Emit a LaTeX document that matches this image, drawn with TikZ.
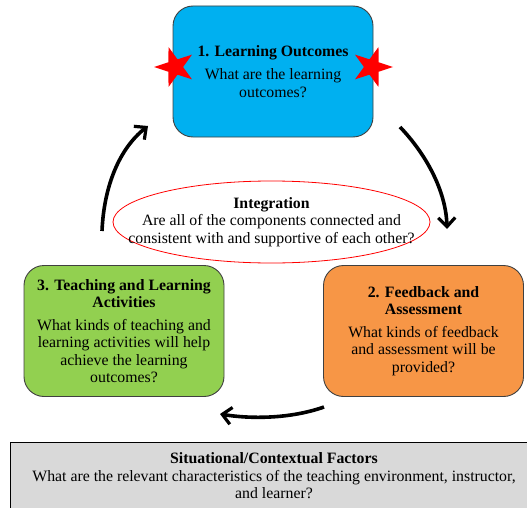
\documentclass[tikz,border=0pt]{standalone}
\usepackage{fontspec}
\setmainfont{Liberation Serif}
\usetikzlibrary{shapes.geometric,arrows.meta}
\definecolor{boxblue}{HTML}{00B0F0}
\definecolor{boxgreen}{HTML}{92D050}
\definecolor{boxorange}{HTML}{F79646}
\definecolor{boxgray}{HTML}{D9D9D9}
\definecolor{edgegray}{HTML}{404040}
\tikzset{
  stagebox/.style={draw=edgegray, line width=0.9pt, rounded corners=20pt,
    minimum width=200pt, minimum height=131pt, align=center, inner sep=0pt,
    font=\fontsize{15.8}{17.5}\selectfont},
  redstar/.style={star, star points=5, star point ratio=2.6, minimum size=42pt,
    inner sep=0pt, fill=red, draw=none},
  cyclearrow/.style={line width=3.6pt, -{Straight Barb[length=9pt,width=17pt,line width=3.2pt]}},
  integ/.style={ellipse, draw=red, line width=0.8pt, fill=white, minimum width=317pt,
    minimum height=82pt, inner sep=0pt},
  plaintext/.style={align=center, inner sep=0pt, font=\fontsize{15.8}{17.5}\selectfont},
}
\begin{document}
\begin{tikzpicture}[x=1pt,y=-1pt]
\useasboundingbox (0,0) rectangle (527,508);
% gray situational box (clipped at the page edge)
\begin{scope}
\clip (0,0) rectangle (527,508);
\node[draw=black, line width=0.9pt, fill=boxgray, minimum width=530pt, minimum height=90pt,
  anchor=north west, inner sep=0pt] (sit) at (10,442) {};
\end{scope}
\node[plaintext] (sittext) at (274,476)
  {\textbf{Situational/Contextual Factors}\\What are the relevant characteristics of the teaching environment, instructor,\\and learner?};
% stage boxes
\node[stagebox, fill=boxblue] (lo) at (273,71.5)
  {\textbf{1. Learning Outcomes}\\[6pt]What are the learning\\outcomes?};
\node[stagebox, fill=boxorange] (fa) at (423.5,331)
  {\textbf{2. Feedback and}\\\textbf{Assessment}\\[5pt]What kinds of feedback\\and assessment will be\\provided?};
\node[stagebox, fill=boxgreen] (tl) at (124,331)
  {\textbf{3. Teaching and Learning}\\\textbf{Activities}\\[5pt]What kinds of teaching and\\learning activities will help\\achieve the learning\\outcomes?};
% stars
\node[redstar, rotate=90] (starl) at (175,67) {};
\node[redstar, rotate=-90] (starr) at (372,67) {};
% integration ellipse
\node[integ] (int) at (271.5,222) {};
\node[plaintext] (inttext) at (int.center)
  {\textbf{Integration}\\Are all of the components connected and\\consistent with and supportive of each other?};
% arrows
\coordinate (a1s) at (400,127);
\coordinate (a1e) at (447,229);
\coordinate (a2s) at (324,407);
\coordinate (a2e) at (220,414);
\coordinate (a3s) at (102,231);
\coordinate (a3e) at (148,126);
\draw[cyclearrow] (a1s) .. controls (425,153) and (446,190) .. (a1e);
\draw[cyclearrow] (a2s) .. controls (290,419) and (250,419) .. (a2e);
\draw[cyclearrow] (a3s) .. controls (104,185) and (120,148) .. (a3e);
\end{tikzpicture}
\end{document}
